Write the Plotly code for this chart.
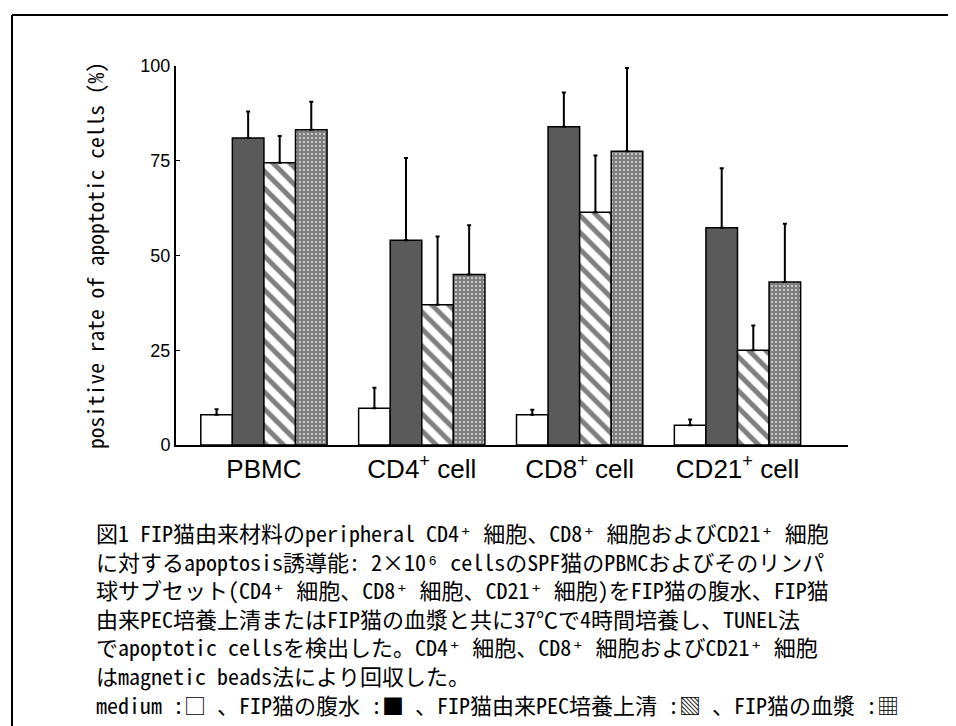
import plotly.graph_objects as go

categories = ["PBMC", "CD4<sup>+</sup> cell", "CD8<sup>+</sup> cell", "CD21<sup>+</sup> cell"]
series_names = ["medium", "FIP猫の腹水", "FIP猫由来PEC培養上清", "FIP猫の血漿"]
medium = [8, 9.7, 8, 5.2]
medium_err = [1.4, 5.4, 1.3, 1.5]
ascites = [81, 54, 84, 57.3]
ascites_err = [7, 21.7, 9, 15.7]
pec = [74.5, 37, 61.4, 25]
pec_err = [7, 18, 15, 6.5]
plasma = [83.2, 45, 77.5, 43]
plasma_err = [7.4, 13, 22, 15.4]
y_ticks = [0, 25, 50, 75, 100]

caption_lines = [
    "図1 FIP猫由来材料のperipheral CD4⁺ 細胞、CD8⁺ 細胞およびCD21⁺ 細胞",
    "に対するapoptosis誘導能: 2×10⁶ cellsのSPF猫のPBMCおよびそのリンパ",
    "球サブセット(CD4⁺ 細胞、CD8⁺ 細胞、CD21⁺ 細胞)をFIP猫の腹水、FIP猫",
    "由来PEC培養上清またはFIP猫の血漿と共に37℃で4時間培養し、TUNEL法",
    "でapoptotic cellsを検出した。CD4⁺ 細胞、CD8⁺ 細胞およびCD21⁺ 細胞",
    "はmagnetic beads法により回収した。",
    "medium :□ 、FIP猫の腹水 :■ 、FIP猫由来PEC培養上清 :▧ 、FIP猫の血漿 :▦",
]

W, H = 956, 726
L, R, T, B = 168, 116, 58, 289
plot_w = W - L - R
plot_h = H - T - B

fig = go.Figure()

styles = [
    dict(color="white"),
    dict(color="#5a5a5a"),
    dict(color="white", pattern=dict(shape="\\", fgcolor="black", bgcolor="white", size=12, solidity=0.42)),
    dict(color="white", pattern=dict(shape="+", fgcolor="black", bgcolor="white", size=4, solidity=0.85)),
]
vals = [medium, ascites, pec, plasma]
errs = [medium_err, ascites_err, pec_err, plasma_err]

for name, v, e, st in zip(series_names, vals, errs, styles):
    fig.add_trace(go.Bar(
        x=categories, y=v, name=name,
        marker=dict(line=dict(color="black", width=1.5), **st),
        error_y=dict(type="data", symmetric=False, array=e, arrayminus=[0] * len(e),
                     color="black", thickness=2, width=2),
    ))

mono = "Noto Sans Mono CJK JP, Liberation Mono, Noto Sans CJK JP, monospace"

fig.add_annotation(
    xref="paper", yref="paper",
    x=(86 - L) / plot_w, y=(H - B - 506) / plot_h,
    xanchor="left", yanchor="top", showarrow=False,
    text="<br>".join(caption_lines), align="left",
    font=dict(family=mono, size=22, color="black"),
)

# outer frame (top and left edges visible in the scan)
fig.add_shape(type="line", xref="paper", yref="paper",
              x0=(4 - L) / plot_w, x1=(W - L) / plot_w,
              y0=(H - B - 7) / plot_h, y1=(H - B - 7) / plot_h,
              line=dict(color="black", width=2))
fig.add_shape(type="line", xref="paper", yref="paper",
              x0=(4 - L) / plot_w, x1=(4 - L) / plot_w,
              y0=(H - B - 7) / plot_h, y1=(H - B - H) / plot_h,
              line=dict(color="black", width=2))

fig.update_layout(
    width=W, height=H,
    margin=dict(l=L, r=R, t=T, b=B),
    paper_bgcolor="white", plot_bgcolor="white",
    barmode="group", bargap=0.2, bargroupgap=0,
    showlegend=False,
    font=dict(family="Liberation Sans, Arial, sans-serif", color="black"),
)
fig.update_xaxes(
    type="category", range=[-0.557, 3.70],
    showline=True, linecolor="black", linewidth=2,
    ticks="", showgrid=False, zeroline=False,
    tickfont=dict(size=26, family="Liberation Sans, Arial, sans-serif"),
)
fig.update_yaxes(
    range=[0, 100], tickvals=y_ticks,
    showline=True, linecolor="black", linewidth=2,
    ticks="inside", ticklen=4, tickcolor="black",
    showgrid=False, zeroline=False,
    tickfont=dict(size=18, family="Liberation Sans, Arial, sans-serif"),
    title=dict(text="positive rate of apoptotic cells (%)",
               font=dict(family=mono, size=21.5), standoff=30),
)

fig.write_html("out.html")
